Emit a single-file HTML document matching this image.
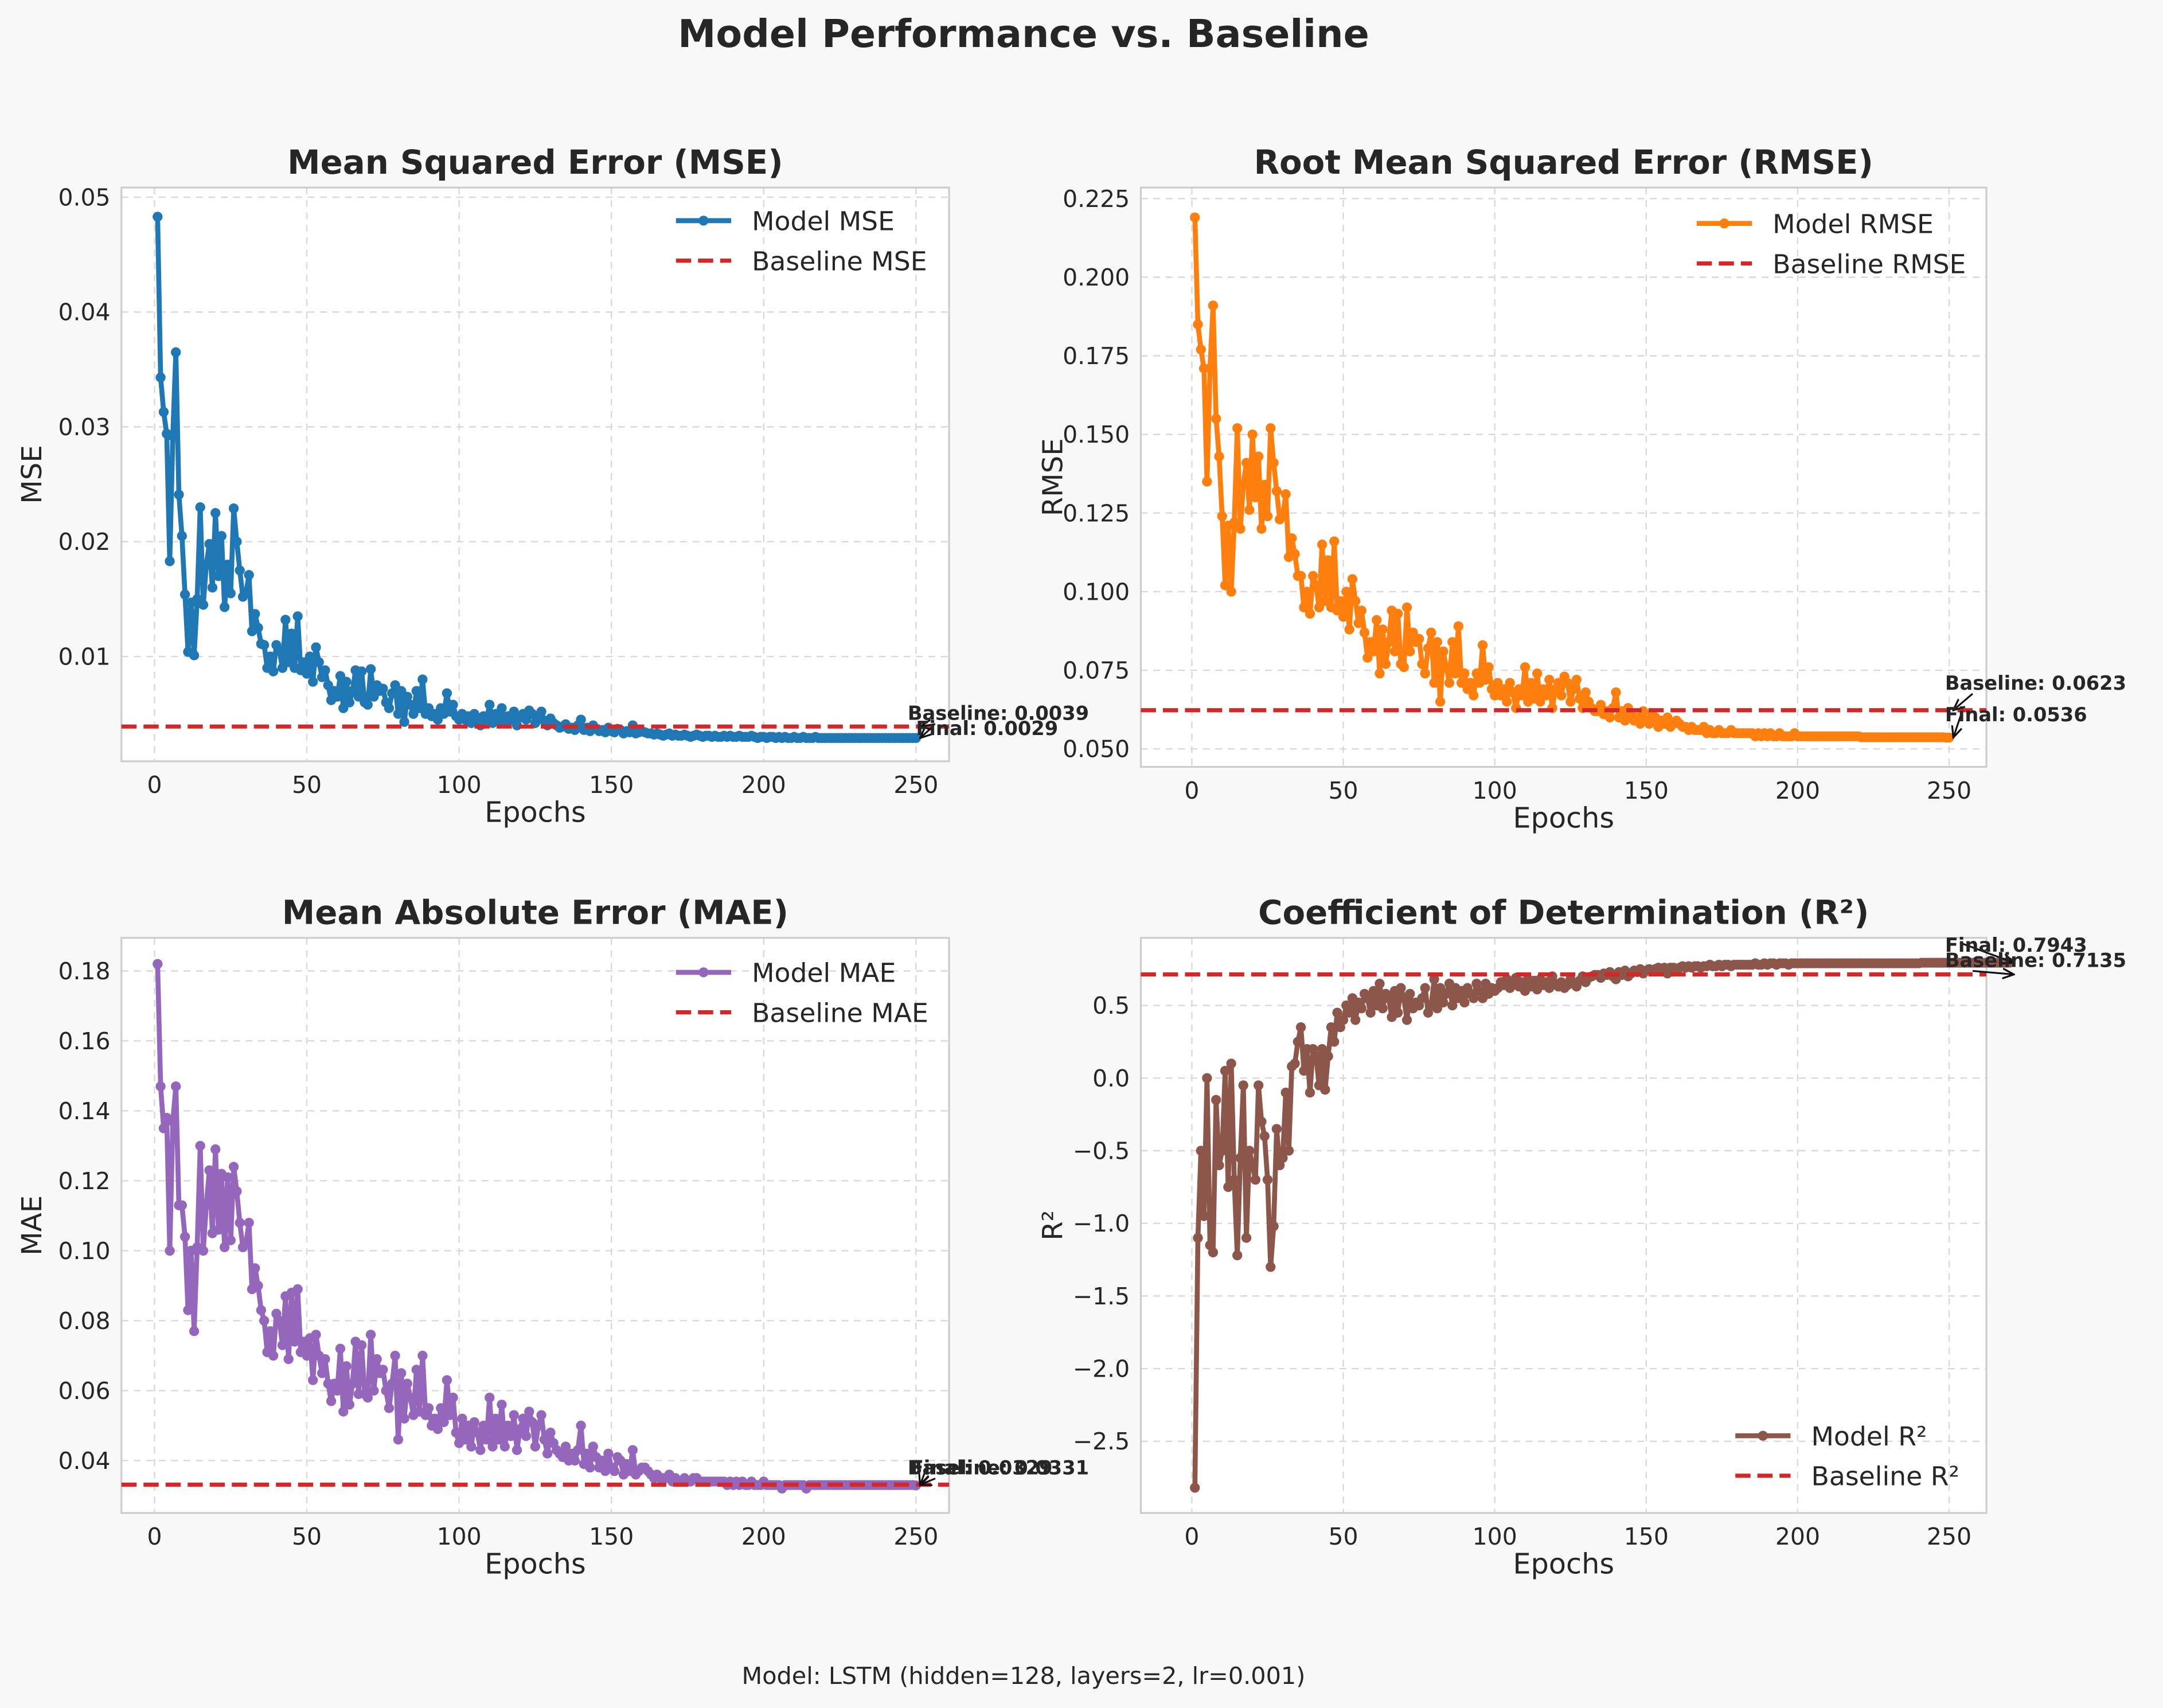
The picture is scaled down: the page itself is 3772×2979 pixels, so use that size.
<!DOCTYPE html>
<html><head><meta charset="utf-8">
<style>
html,body{margin:0;padding:0;background:#f8f8f8;}
svg{display:block;font-family:"DejaVu Sans","Liberation Sans",sans-serif;}
</style></head>
<body>
<svg id="fig" width="3772" height="2979" viewBox="0 0 1568 1238.4" xmlns="http://www.w3.org/2000/svg">
<rect x="0" y="0" width="1568" height="1238.4" fill="#f8f8f8"/>
<text x="742" y="34" text-anchor="middle" font-size="27.7" font-weight="bold" fill="#262626">Model Performance vs. Baseline</text>
<text x="742" y="1221" text-anchor="middle" font-size="17.2" fill="#262626">Model: LSTM (hidden=128, layers=2, lr=0.001)</text>
</svg>
<script>
const mseValues = [0.0483,0.0343,0.0313,0.0294,0.0183,0.0292,0.0365,0.0241,0.0205,0.0154,0.0104,0.0147,0.0101,0.0150,0.0230,0.0145,0.0180,0.0198,0.0160,0.0225,0.0170,0.0205,0.0143,0.0180,0.0155,0.0229,0.0200,0.0175,0.0152,0.0155,0.0171,0.0122,0.0137,0.0125,0.0111,0.0110,0.0090,0.0100,0.0087,0.0110,0.0105,0.0090,0.0132,0.0095,0.0120,0.0090,0.0135,0.0088,0.0095,0.0085,0.0100,0.0078,0.0108,0.0095,0.0082,0.0088,0.0075,0.0062,0.0070,0.0065,0.0083,0.0055,0.0078,0.0060,0.0070,0.0088,0.0065,0.0087,0.0060,0.0058,0.0089,0.0065,0.0075,0.0070,0.0072,0.0060,0.0055,0.0068,0.0075,0.0050,0.0070,0.0043,0.0065,0.0058,0.0050,0.0070,0.0055,0.0080,0.0050,0.0055,0.0048,0.0050,0.0045,0.0055,0.0050,0.0068,0.0052,0.0058,0.0048,0.0045,
0.0050,0.0045,0.0048,0.0042,0.0050,0.0046,0.0040,0.0048,0.0045,0.0058,0.0042,0.0050,0.0044,0.0055,0.0042,0.0048,0.0045,0.0052,0.0040,0.0047,0.0050,0.0045,0.0053,0.0050,0.0042,0.0048,0.0052,0.0044,0.0040,0.0046,
0.0042,0.0040,0.0038,0.0039,0.0041,0.0037,0.0038,0.0036,0.0040,0.0045,0.0036,0.0038,0.0035,0.0040,0.0037,0.0035,0.0036,0.0034,0.0038,0.0035,0.0034,0.0037,0.0036,0.0033,0.0035,0.0034,0.0040,0.0033,0.0034,0.0035,
0.0034,0.0033,0.0033,0.0032,0.0033,0.0032,0.0031,0.0032,0.0033,0.0031,0.0032,0.0031,0.0031,0.0032,0.0031,0.0030,0.0031,0.0032,0.0031,0.0030,0.0031,0.0031,0.0030,0.0031,0.0030,0.0030,0.0031,0.0030,0.0031,0.0030,
0.0030,0.0031,0.0030,0.0030,0.0030,0.0031,0.0030,0.0029,0.0030,0.0030,0.0029,0.0030,0.0030,0.0029,0.0030,0.0029,0.0030,0.0029,0.0029,0.0030,0.0029,0.0029,0.0030,0.0029,0.0029,0.0029,0.0030,0.0029,0.0029,0.0029,
0.0029,0.0029,0.0029,0.0029,0.0029,0.0029,0.0029,0.0029,0.0029,0.0029,0.0029,0.0029,0.0029,0.0029,0.0029,0.0029,0.0029,0.0029,0.0029,0.0029,0.0029,0.0029,0.0029,0.0029,0.0029,0.0029,0.0029,0.0029,0.0029,0.0029];
const rmseValues = [0.219,0.185,0.177,0.171,0.135,0.171,0.191,0.155,0.143,0.124,0.102,0.121,0.100,0.122,0.152,0.120,0.134,0.141,0.126,0.150,0.130,0.143,0.120,0.134,0.124,0.152,0.141,0.132,0.123,0.124,0.131,0.111,0.117,0.112,0.105,0.105,0.095,0.100,0.093,0.105,0.102,0.095,0.115,0.097,0.110,0.095,0.116,0.094,0.097,0.092,0.100,0.088,0.104,0.097,0.090,0.094,0.087,0.079,0.084,0.081,0.091,0.074,0.088,0.077,0.084,0.094,0.081,0.093,0.077,0.076,0.095,0.081,0.087,0.084,0.085,0.077,0.074,0.082,0.087,0.071,0.084,0.065,0.081,0.076,0.071,0.084,0.074,0.089,0.071,0.074,0.069,0.071,0.067,0.074,0.071,0.083,0.072,0.076,0.069,0.067,
0.071,0.067,0.069,0.065,0.071,0.068,0.063,0.069,0.067,0.076,0.065,0.071,0.066,0.074,0.065,0.069,0.067,0.072,0.063,0.069,0.071,0.067,0.073,0.071,0.065,0.069,0.072,0.066,0.063,0.068,
0.065,0.063,0.062,0.062,0.064,0.061,0.062,0.060,0.063,0.068,0.060,0.062,0.059,0.063,0.061,0.059,0.060,0.058,0.062,0.059,0.058,0.061,0.060,0.057,0.059,0.058,0.060,0.057,0.058,0.059,
0.058,0.057,0.057,0.056,0.057,0.056,0.056,0.056,0.057,0.055,0.056,0.055,0.055,0.056,0.055,0.055,0.055,0.056,0.055,0.055,0.055,0.055,0.055,0.055,0.055,0.054,0.055,0.054,0.055,0.054,
0.055,0.054,0.054,0.055,0.054,0.054,0.054,0.054,0.055,0.054,0.054,0.054,0.054,0.054,0.054,0.054,0.054,0.054,0.054,0.054,0.054,0.054,0.054,0.054,0.054,0.054,0.054,0.054,0.054,0.054,
0.0537,0.0537,0.0537,0.0537,0.0537,0.0537,0.0537,0.0537,0.0537,0.0537,0.0537,0.0537,0.0537,0.0537,0.0537,0.0537,0.0537,0.0537,0.0537,0.0537,0.0537,0.0537,0.0537,0.0537,0.0537,0.0537,0.0537,0.0537,0.0536,0.0536];
const maeValues = [0.182,0.147,0.135,0.138,0.100,0.137,0.147,0.113,0.113,0.104,0.083,0.100,0.077,0.101,0.130,0.100,0.113,0.123,0.105,0.129,0.106,0.122,0.101,0.121,0.103,0.124,0.117,0.108,0.101,0.102,0.108,0.089,0.095,0.090,0.083,0.080,0.071,0.077,0.070,0.082,0.080,0.073,0.087,0.069,0.088,0.074,0.089,0.071,0.074,0.070,0.075,0.063,0.076,0.070,0.065,0.069,0.062,0.057,0.062,0.060,0.072,0.054,0.067,0.056,0.062,0.074,0.059,0.073,0.059,0.058,0.076,0.060,0.069,0.065,0.066,0.060,0.055,0.062,0.070,0.046,0.065,0.052,0.062,0.058,0.053,0.066,0.054,0.070,0.053,0.055,0.050,0.052,0.049,0.055,0.051,0.063,0.053,0.058,0.048,0.045,
0.052,0.046,0.050,0.044,0.051,0.048,0.043,0.050,0.046,0.058,0.044,0.052,0.046,0.056,0.044,0.050,0.047,0.053,0.043,0.049,0.052,0.047,0.054,0.051,0.044,0.050,0.053,0.046,0.042,0.048,
0.045,0.043,0.042,0.041,0.044,0.040,0.042,0.040,0.043,0.050,0.039,0.042,0.038,0.044,0.041,0.038,0.040,0.037,0.042,0.038,0.037,0.041,0.040,0.036,0.039,0.037,0.043,0.036,0.037,0.038,
0.038,0.037,0.036,0.035,0.036,0.035,0.035,0.035,0.036,0.034,0.035,0.034,0.034,0.035,0.034,0.034,0.035,0.035,0.034,0.034,0.034,0.034,0.034,0.034,0.034,0.034,0.034,0.033,0.034,0.033,
0.034,0.033,0.034,0.033,0.033,0.034,0.033,0.033,0.033,0.034,0.033,0.033,0.033,0.033,0.033,0.032,0.033,0.033,0.033,0.033,0.033,0.033,0.033,0.032,0.033,0.033,0.033,0.033,0.033,0.033,
0.033,0.033,0.033,0.033,0.033,0.033,0.033,0.033,0.033,0.033,0.033,0.033,0.033,0.033,0.033,0.033,0.033,0.033,0.033,0.033,0.033,0.033,0.033,0.033,0.033,0.033,0.033,0.033,0.033,0.0329];
const r2Values = [-2.82,-1.10,-0.50,-0.95,0.00,-1.15,-1.20,-0.15,-0.60,-0.50,0.05,-0.75,0.10,-0.70,-1.22,-0.55,-0.05,-1.10,-0.50,-0.60,-0.70,-0.05,-0.30,-0.40,-0.70,-1.30,-1.02,-0.35,-0.60,-0.55,-0.10,-0.50,0.08,0.10,0.25,0.35,0.05,0.20,-0.10,0.20,0.15,-0.05,0.20,-0.08,0.15,0.35,0.25,0.45,0.35,0.40,
0.50,0.45,0.55,0.40,0.52,0.48,0.58,0.55,0.45,0.60,0.50,0.65,0.48,0.58,0.55,0.42,0.60,0.45,0.62,0.55,0.40,0.58,0.48,0.52,0.50,0.55,0.62,0.45,0.50,0.68,0.48,0.62,0.52,0.58,0.65,0.50,0.62,0.55,0.60,0.52,0.62,0.58,0.55,0.65,0.60,0.55,0.65,0.58,0.62,0.60,
0.62,0.66,0.64,0.68,0.62,0.65,0.69,0.63,0.66,0.60,0.68,0.63,0.67,0.61,0.68,0.64,0.66,0.62,0.70,0.65,0.63,0.66,0.62,0.64,0.68,0.65,0.63,0.67,0.70,0.66,0.69,0.70,0.71,0.71,0.69,0.72,0.71,0.73,0.70,0.68,0.73,0.71,0.74,0.70,0.72,0.74,0.73,0.75,0.72,0.74,
0.75,0.74,0.75,0.76,0.75,0.76,0.72,0.76,0.76,0.75,0.76,0.77,0.76,0.77,0.76,0.77,0.77,0.76,0.77,0.77,0.78,0.77,0.77,0.78,0.77,0.78,0.78,0.77,0.78,0.78,
0.78,0.78,0.78,0.78,0.78,0.79,0.78,0.78,0.79,0.78,0.79,0.79,0.78,0.79,0.79,0.79,0.78,0.79,0.79,0.79,0.79,0.79,0.79,0.79,0.79,0.79,0.79,0.79,0.79,0.79,
0.79,0.79,0.79,0.79,0.79,0.79,0.79,0.79,0.79,0.79,0.79,0.79,0.79,0.79,0.79,0.79,0.79,0.79,0.79,0.79,0.79,0.79,0.79,0.79,0.79,0.79,0.79,0.79,0.79,0.79,
0.794,0.794,0.794,0.794,0.794,0.794,0.794,0.794,0.794,0.794,0.794,0.794,0.794,0.794,0.794,0.794,0.794,0.794,0.794,0.794,0.794,0.794,0.794,0.794,0.794,0.794,0.794,0.794,0.794,0.7943];
const baselines = [0.0039, 0.0623, 0.0331, 0.7135];
const xTicks = [0, 50, 100, 150, 200, 250];
const mseTicks = [0.01, 0.02, 0.03, 0.04, 0.05];
const mseTickLabels = ["0.01","0.02","0.03","0.04","0.05"];
const rmseTicks = [0.05,0.075,0.1,0.125,0.15,0.175,0.2,0.225];
const rmseTickLabels = ["0.050","0.075","0.100","0.125","0.150","0.175","0.200","0.225"];
const maeTicks = [0.04,0.06,0.08,0.10,0.12,0.14,0.16,0.18];
const maeTickLabels = ["0.04","0.06","0.08","0.10","0.12","0.14","0.16","0.18"];
const r2Ticks = [-2.5,-2,-1.5,-1,-0.5,0,0.5];
const r2TickLabels = ["\u22122.5","\u22122.0","\u22121.5","\u22121.0","\u22120.5","0.0","0.5"];

const NS = "http://www.w3.org/2000/svg";
const fig = document.getElementById('fig');
function mk(tag, attrs, parent, txt){
  const e = document.createElementNS(NS, tag);
  for (const k in attrs) e.setAttribute(k, attrs[k]);
  if (txt !== undefined) e.textContent = txt;
  (parent || fig).appendChild(e);
  return e;
}
const defs = mk('defs', {});
const mkr = mk('marker', {id:'arr', viewBox:'0 0 10 10', refX:9, refY:5, markerWidth:7, markerHeight:7, orient:'auto-start-reverse'}, defs);
mk('path', {d:'M0,1 L9,5 L0,9', fill:'none', stroke:'#111', 'stroke-width':1.5}, mkr);

const panels = [
 {key:'mse', title:'Mean Squared Error (MSE)', ylab:'MSE', color:'#1f77b4', data:mseValues, base:baselines[0], ticks:mseTicks, tlab:mseTickLabels,
  box:[88,136,688,552], x0:112, x250:664, yv:[0.01,476,0.05,143], leg:[490,160,'Model MSE','Baseline MSE'],
  baseTxt:'Baseline: 0.0039', finTxt:'Final: 0.0029', bpos:[658,522], fpos:[664,533]},
 {key:'rmse', title:'Root Mean Squared Error (RMSE)', ylab:'RMSE', color:'#ff7f0e', data:rmseValues, base:baselines[1], ticks:rmseTicks, tlab:rmseTickLabels,
  box:[827,136,1440,556], x0:864, x250:1413, yv:[0.05,543,0.225,144], leg:[1230,162,'Model RMSE','Baseline RMSE'],
  baseTxt:'Baseline: 0.0623', finTxt:'Final: 0.0536', bpos:[1410,500], fpos:[1410,523]},
 {key:'mae', title:'Mean Absolute Error (MAE)', ylab:'MAE', color:'#9467bd', data:maeValues, base:baselines[2], ticks:maeTicks, tlab:maeTickLabels,
  box:[88,680,688,1097], x0:112, x250:664, yv:[0.04,1059,0.18,704], leg:[490,705,'Model MAE','Baseline MAE'],
  baseTxt:'Baseline: 0.0331', finTxt:'Final: 0.0329', bpos:[658,1069], fpos:[660,1069]},
 {key:'r2', title:'Coefficient of Determination (R\u00b2)', ylab:'R\u00b2', color:'#8c564b', data:r2Values, base:baselines[3], ticks:r2Ticks, tlab:r2TickLabels,
  box:[827,680,1440,1097], x0:864, x250:1413, yv:[-2.5,1045,0.5,729], leg:[1258,1041,'Model R\u00b2','Baseline R\u00b2'],
  baseTxt:'Baseline: 0.7135', finTxt:'Final: 0.7943', bpos:[1410,701], fpos:[1410,690]}
];

panels.forEach(p => {
  const [L,T,R,B] = p.box;
  const g = mk('g', {});
  
  
  const xs = v => p.x0 + (p.x250 - p.x0) * v / 250;
  const ys = v => p.yv[1] + (v - p.yv[0]) * (p.yv[3] - p.yv[1]) / (p.yv[2] - p.yv[0]);
  const bg = mk('rect', {x:L, y:T, width:R-L, height:B-T, fill:'#ffffff'}, g);
  
  
  xTicks.forEach(t => {
    const x = xs(t);
    mk('line', {x1:x, x2:x, y1:T, y2:B, stroke:'#d9d9d9', 'stroke-dasharray':'5,4', 'stroke-width':1}, g);
    const tl = mk('text', {x:x, y:B+23, 'text-anchor':'middle', 'font-size':17, fill:'#262626'}, g, String(t));
    
    
  });
  p.ticks.forEach((t, i) => {
    const y = ys(t);
    mk('line', {x1:L, x2:R, y1:y, y2:y, stroke:'#d9d9d9', 'stroke-dasharray':'5,4', 'stroke-width':1}, g);
    const tl = mk('text', {x:L-8, y:y+6, 'text-anchor':'end', 'font-size':17, fill:'#262626'}, g, p.tlab[i]);
    
    
  });
  const fr = mk('rect', {x:L, y:T, width:R-L, height:B-T, fill:'none', stroke:'#cccccc', 'stroke-width':1.3}, g);
  
  
  const tt = mk('text', {x:(L+R)/2, y:T-10, 'text-anchor':'middle', 'font-size':24, 'font-weight':'bold', fill:'#262626'}, g, p.title);
  
  
  const xl = mk('text', {x:(L+R)/2, y:B+44, 'text-anchor':'middle', 'font-size':20.5, fill:'#262626'}, g, 'Epochs');
  
  
  const yx = p.key === 'mse' || p.key === 'mae' ? 30 : 770;
  const yl = mk('text', {x:yx, y:(T+B)/2, 'text-anchor':'middle', 'font-size':20, fill:'#262626', transform:`rotate(-90 ${yx} ${(T+B)/2})`}, g, p.ylab);
  
  
  const cid = 'clip-' + p.key;
  const cp = mk('clipPath', {id:cid}, g);
  mk('rect', {x:L, y:T, width:R-L, height:B-T}, cp);
  const pts = p.data.map((v, i) => xs(i+1).toFixed(2) + ',' + ys(v).toFixed(2)).join(' ');
  const line = mk('polyline', {points:pts, fill:'none', stroke:p.color, 'stroke-width':3.6, 'stroke-linejoin':'round', 'clip-path':`url(#${cid})`}, g);
  
  
  p.data.forEach((v, i) => {
    const c = mk('circle', {cx:xs(i+1), cy:ys(v), r:3.6, fill:p.color}, g);
    
    
  });
  const bl = mk('line', {x1:L, x2:R, y1:ys(p.base), y2:ys(p.base), stroke:'#d62728', 'stroke-width':3, 'stroke-dasharray':'11,5'}, g);
  
  
  // short annotation arrows
  const fx = xs(p.data.length);
  mk('line', {x1:p.fpos[0]+12, y1:p.fpos[1]-6, x2:fx+3, y2:ys(p.data[p.data.length-1]), stroke:'#111', 'stroke-width':1.3, 'marker-end':'url(#arr)'}, g);
  mk('line', {x1:p.bpos[0]+20, y1:p.bpos[1]+3, x2:fx+3, y2:ys(p.base), stroke:'#111', 'stroke-width':1.3, 'marker-end':'url(#arr)'}, g);
  const ba = mk('text', {x:p.bpos[0], y:p.bpos[1], 'font-size':14, 'font-weight':'bold', fill:'#262626'}, g, p.baseTxt);
  
  
  const fa = mk('text', {x:p.fpos[0], y:p.fpos[1], 'font-size':14, 'font-weight':'bold', fill:'#262626'}, g, p.finTxt);
  
  
  const [lx, ly, m1, m2] = p.leg;
  const lg = mk('g', {}, g);
  
  
  mk('line', {x1:lx, x2:lx+40, y1:ly, y2:ly, stroke:p.color, 'stroke-width':3.6}, lg);
  mk('circle', {cx:lx+20, cy:ly, r:3.6, fill:p.color}, lg);
  const e1 = mk('text', {x:lx+55, y:ly+7, 'font-size':19, fill:'#262626'}, lg, m1);
  
  
  mk('line', {x1:lx, x2:lx+40, y1:ly+29, y2:ly+29, stroke:'#d62728', 'stroke-width':3, 'stroke-dasharray':'11,5'}, lg);
  const e2 = mk('text', {x:lx+55, y:ly+36, 'font-size':19, fill:'#262626'}, lg, m2);
  
  
});
</script>
</body></html>
